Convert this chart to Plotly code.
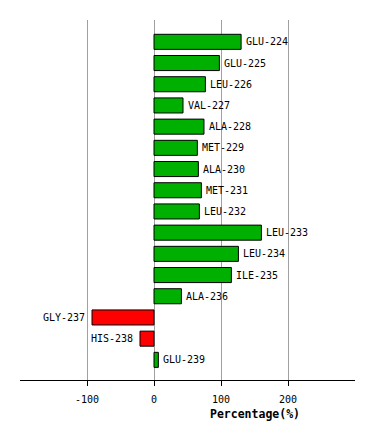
import plotly.graph_objects as go

residues = ["GLU-224", "GLU-225", "LEU-226", "VAL-227", "ALA-228", "MET-229",
            "ALA-230", "MET-231", "LEU-232", "LEU-233", "LEU-234", "ILE-235",
            "ALA-236", "GLY-237", "HIS-238", "GLU-239"]
percentages = [130, 97.6, 76.7, 43.3, 74.6, 64.7, 66.2, 70.7, 67.7, 160.3,
               126, 115.5, 40.9, -92.5, -20.9, 6.5]
tick_values = [-100, 0, 100, 200]
tick_labels = ["-100", "0", "100", "200"]
x_title = "Percentage(%)"

colors = ["#00b000" if v >= 0 else "#ff0000" for v in percentages]
font_family = "DejaVu Sans Mono"

fig = go.Figure()
fig.add_trace(go.Bar(
    y=residues, x=percentages, orientation="h",
    marker=dict(color=colors, line=dict(color="black", width=1)),
    width=0.71,
    hoverinfo="skip",
))

annotations = []
for name, val in zip(residues, percentages):
    annotations.append(dict(
        text=name, x=val, xref="x", y=name, yref="y",
        xanchor="left" if val >= 0 else "right",
        xshift=3 if val >= 0 else -5,
        yanchor="middle", showarrow=False,
        font=dict(family=font_family, size=10, color="black")))
annotations.append(dict(text="<b>" + x_title + "</b>", x=150, xref="x",
                        y=-0.095, yref="paper", yanchor="middle", showarrow=False,
                        font=dict(family=font_family, size=11.5, color="black")))

fig.update_layout(
    width=374, height=440,
    margin=dict(l=20, r=19, t=20, b=60),
    paper_bgcolor="white", plot_bgcolor="white",
    showlegend=False,
    xaxis=dict(range=[-200, 300], tickvals=tick_values, ticktext=tick_labels,
               showgrid=True, gridcolor="#a0a0a0", gridwidth=1,
               zeroline=False, showline=True, linecolor="black", linewidth=1,
               ticks="outside", ticklen=5, tickcolor="black",
               ticklabelstandoff=5,
               tickfont=dict(family=font_family, size=10, color="black")),
    yaxis=dict(type="category", range=[15.95, -1.03], showticklabels=False,
               showgrid=False, zeroline=False, showline=False, ticks=""),
    annotations=annotations,
)

fig.write_html("out.html")
